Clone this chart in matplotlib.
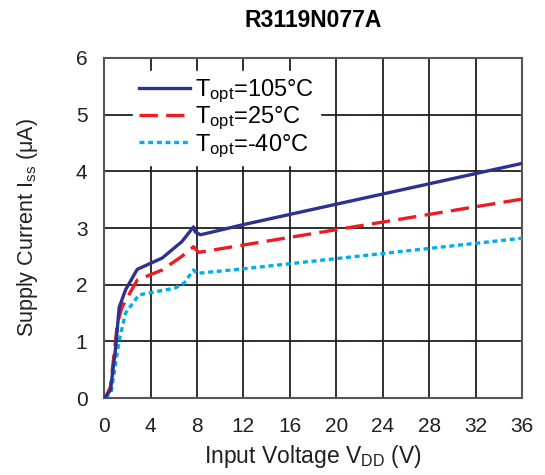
import numpy as np
import matplotlib
matplotlib.use("Agg")
from matplotlib import pyplot as plt

plt.rcParams['font.family'] = ['Liberation Sans', 'DejaVu Sans']
plt.rcParams['mathtext.fontset'] = 'custom'
plt.rcParams['mathtext.rm'] = 'Liberation Sans'
plt.rcParams['mathtext.it'] = 'Liberation Sans:italic'

# Input voltage (V) and supply current (uA) for each temperature
v_105 = [0.05, 0.55, 1.0, 1.3, 1.85, 2.85, 5.0, 6.7, 7.7, 7.85, 8.3, 12, 20, 28, 36]
i_105 = [0.0, 0.14, 0.9, 1.6, 1.91, 2.27, 2.47, 2.76, 3.02, 2.93, 2.88, 3.06, 3.42, 3.78, 4.14]

v_25 = [0.1, 0.55, 1.15, 1.55, 2.85, 5.0, 6.7, 7.7, 7.9, 8.15, 12, 20, 28, 36]
i_25 = [0.0, 0.2, 1.32, 1.61, 2.08, 2.26, 2.5, 2.67, 2.62, 2.57, 2.70, 2.97, 3.24, 3.51]

v_m40 = [0.1, 0.6, 1.3, 1.85, 3.0, 6.1, 6.9, 7.7, 8.0, 12, 20, 28, 36]
i_m40 = [0.0, 0.1, 1.02, 1.5, 1.82, 1.94, 2.03, 2.26, 2.2, 2.28, 2.46, 2.64, 2.82]

xticks = [0, 4, 8, 12, 16, 20, 24, 28, 32, 36]
yticks = [0, 1, 2, 3, 4, 5, 6]

fig = plt.figure(figsize=(5.45, 4.75), dpi=100)
ax = fig.add_axes([0.191, 0.162, 0.767, 0.716])

ax.plot(v_105, i_105, color='#2e3192', lw=2.4, label=r'T$_{\rm opt}$=105°C', zorder=5)
ax.plot(v_25, i_25, color='#ed1c24', lw=2.4, dashes=(5.5, 2.5), label=r'T$_{\rm opt}$=25°C', zorder=4)
ax.plot(v_m40, i_m40, color='#00aeef', lw=2.4, dashes=(1.5, 1.1), label=r'T$_{\rm opt}$=-40°C', zorder=3)

ax.set_xlim(0, 36)
ax.set_ylim(0, 6)
ax.set_xticks(xticks)
ax.set_yticks(yticks)
ax.grid(True, color='#231f20', lw=1.3)
ax.set_axisbelow(True)
ax.tick_params(length=0, labelsize=15, colors='#231f20')
ax.tick_params(axis='x', pad=14)
ax.tick_params(axis='y', pad=12)
for s in ax.spines.values():
    s.set_color('#555555')
    s.set_linewidth(1.5)

ax.set_xlabel(r'Input Voltage V$_{\rm DD}$ (V)', fontsize=16.5, color='#231f20', labelpad=5)
ax.set_ylabel(r'Supply Current I$_{\rm ss}$ (μA)', fontsize=15.5, color='#231f20', labelpad=26)
ax.set_title('R3119N077A', fontsize=16.5, fontweight='bold', pad=22)

leg = ax.legend(loc='upper left', bbox_to_anchor=(0.04, 0.995), fontsize=17,
                frameon=True, fancybox=False, handlelength=2.2, handletextpad=0.2,
                labelspacing=0.0, borderpad=0.25)
leg.get_frame().set_edgecolor('white')
leg.get_frame().set_facecolor('white')
leg.get_frame().set_alpha(1)

fig.savefig('out.png', dpi=100)
